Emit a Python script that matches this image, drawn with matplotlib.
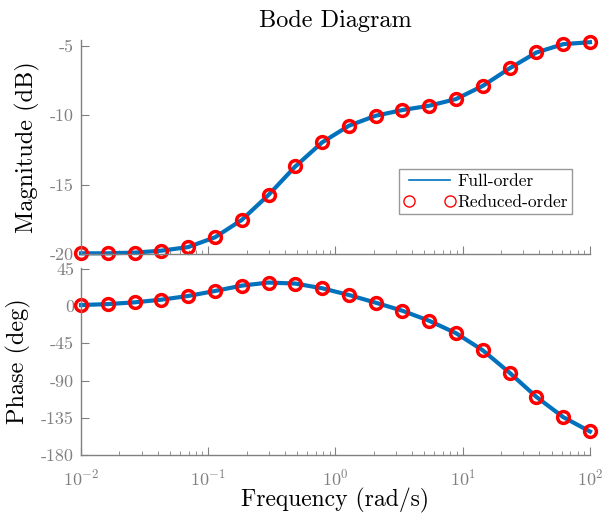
import numpy as np
import matplotlib
matplotlib.use('Agg')
import matplotlib.pyplot as plt
from matplotlib.ticker import LogLocator, NullFormatter

plt.rcParams['font.family'] = 'serif'
plt.rcParams['font.serif'] = ['cmr10']
plt.rcParams['mathtext.fontset'] = 'cm'
plt.rcParams['axes.formatter.use_mathtext'] = True

# frequency points (rad/s)
freq = np.logspace(-2, 2, 20)

# magnitude (dB)
magDB = [-19.95, -19.95, -19.9, -19.76, -19.5, -18.8, -17.55, -15.75, -13.7, -11.97,
         -10.77, -10.05, -9.64, -9.33, -8.85, -7.9, -6.64, -5.5, -4.9, -4.76]

# phase (deg)
phaseDeg = [1.2, 2.4, 4.5, 7.7, 12.2, 18.2, 24.7, 28.4, 27.2, 21.5,
            13.4, 4.1, -5.7, -17.8, -32.8, -53.5, -80.6, -109.8, -134.2, -151.6]

magTicks = [-20, -15, -10, -5]
phaseTicks = [-180, -135, -90, -45, 0, 45]

blue = '#0072BD'
grey = '#808080'

fig = plt.figure(figsize=(6.03, 5.14), dpi=100)
axMag = fig.add_axes([0.1343, 0.5058, 0.8441, 0.4164])
axPh = fig.add_axes([0.1343, 0.1148, 0.8441, 0.3638])


def styleAxis(ax):
    ax.set_xscale('log')
    ax.set_xlim(1e-2, 1e2)
    for s in ['top', 'right']:
        ax.spines[s].set_visible(False)
    for s in ['left', 'bottom']:
        ax.spines[s].set_color(grey)
        ax.spines[s].set_linewidth(1.0)
    ax.tick_params(which='both', direction='in', colors=grey, labelcolor=grey, labelsize=13)
    ax.tick_params(which='major', length=6)
    ax.tick_params(which='minor', length=3)
    ax.tick_params(axis='x', pad=9)
    ax.tick_params(axis='y', pad=5)
    ax.xaxis.set_major_locator(LogLocator(base=10, numticks=10))
    ax.xaxis.set_minor_locator(LogLocator(base=10, subs=np.arange(2, 10), numticks=10))
    ax.xaxis.set_minor_formatter(NullFormatter())


styleAxis(axMag)
axMag.plot(freq, magDB, '-', color=blue, lw=3, label='Full-order')
axMag.plot(freq, magDB, 'o', ls='none', mfc='none', mec='red', mew=2.5, ms=8.5,
           label='Reduced-order')
axMag.set_ylim(-20, -4.6)
axMag.set_yticks(magTicks)
axMag.set_yticklabels([str(t) for t in magTicks])
axMag.xaxis.set_major_formatter(NullFormatter())
axMag.set_ylabel('Magnitude (dB)', fontsize=17.5, color='black', labelpad=7)
axMag.set_title('Bode Diagram', fontsize=17.5, color='black', pad=9)

leg = axMag.legend(loc='lower right', bbox_to_anchor=(0.965, 0.187), numpoints=2,
                   fontsize=12.5, frameon=True, fancybox=False, handlelength=3.0,
                   handletextpad=0.1, borderpad=0.25, labelspacing=0.32,
                   borderaxespad=0)
leg.get_frame().set_edgecolor(grey)
leg.get_frame().set_linewidth(1.0)
legLines = leg.get_lines()
legLines[0].set_linewidth(1.2)
legLines[1].set_markeredgewidth(1.0)
legLines[1].set_markersize(8)

styleAxis(axPh)
axPh.plot(freq, phaseDeg, '-', color=blue, lw=3)
axPh.plot(freq, phaseDeg, 'o', ls='none', mfc='none', mec='red', mew=2.5, ms=8.5)
axPh.set_ylim(-180, 46)
axPh.set_yticks(phaseTicks)
axPh.set_yticklabels([str(t) for t in phaseTicks])
axPh.set_ylabel('Phase (deg)', fontsize=17.5, color='black', labelpad=7)
axPh.set_xlabel('Frequency (rad/s)', fontsize=17, color='black')
axPh.xaxis.set_label_coords(0.5, -0.175)

for ax in (axMag, axPh):
    for l in ax.lines:
        l.set_clip_on(False)

fig.savefig('out.png', dpi=100)
